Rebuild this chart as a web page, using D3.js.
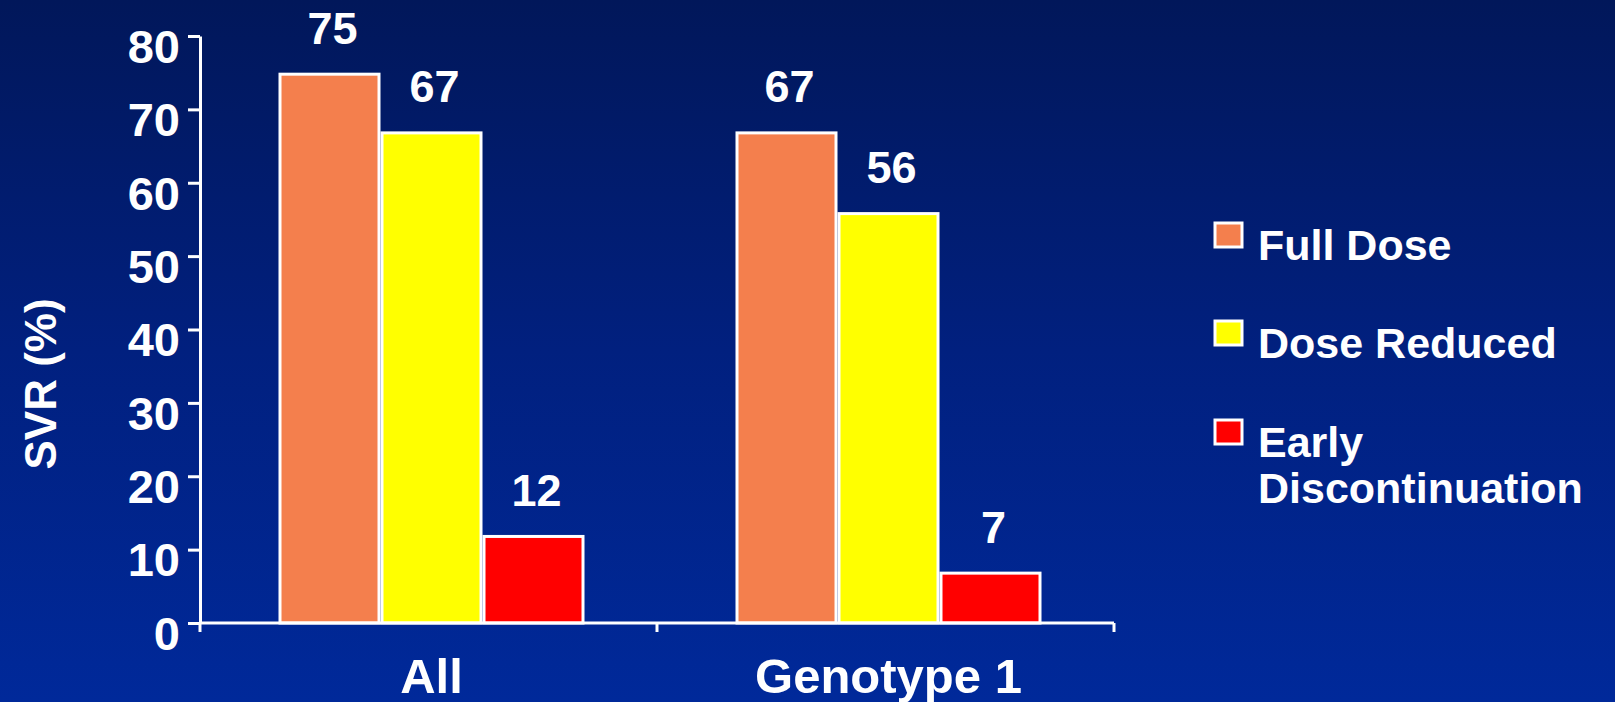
<!DOCTYPE html>
<html>
<head>
<meta charset="utf-8">
<script src="https://cdn.jsdelivr.net/npm/d3@7"></script>
<style>
  html, body { margin: 0; padding: 0; overflow: hidden; background: #001a6a; }
  svg { display: block; }
  text { font-family: "Liberation Sans", Arial, Helvetica, sans-serif; font-weight: bold; fill: #ffffff; }
</style>
</head>
<body>
<svg id="chart" width="1615" height="702"></svg>
<script>
// ---- data ----
const categories = ["All", "Genotype 1"];
const seriesNames = ["Full Dose", "Dose Reduced", "Early Discontinuation"];
const fullDose = [75, 67];
const doseReduced = [67, 56];
const earlyDiscontinuation = [12, 7];
const yTicks = [0, 10, 20, 30, 40, 50, 60, 70, 80];
const yLabel = "SVR (%)";

// ---- layout ----
const W = 1615, H = 702;
const plot = { left: 200, right: 1114, top: 36, bottom: 623 };
const colors = ["#f47f4d", "#ffff00", "#ff0000"];
const seriesValues = [fullDose, doseReduced, earlyDiscontinuation];

const svg = d3.select("#chart");

// background gradient
const defs = svg.append("defs");
const grad = defs.append("linearGradient").attr("id", "bg").attr("x1", 0).attr("y1", 0).attr("x2", 0).attr("y2", 1);
grad.append("stop").attr("offset", "0%").attr("stop-color", "#01175a");
grad.append("stop").attr("offset", "50%").attr("stop-color", "#01207f");
grad.append("stop").attr("offset", "100%").attr("stop-color", "#00299a");
svg.append("rect").attr("width", W).attr("height", H).attr("fill", "url(#bg)");

// scales
const y = d3.scaleLinear().domain([0, 80]).range([plot.bottom, plot.top]);
const x0 = d3.scaleBand().domain(categories).range([plot.left, plot.right]).paddingInner(0).paddingOuter(0);
const groupW = 306;
const x1 = d3.scaleBand().domain(seriesNames).range([0, groupW]).padding(0);

// data rows
const rows = [];
categories.forEach((c, ci) => {
  seriesNames.forEach((s, si) => {
    rows.push({ cat: c, series: s, si: si, value: seriesValues[si][ci] });
  });
});

const gx = c => x0(c) + (x0.bandwidth() - groupW) / 2 + 3;
const sw = 3;

// bars (stroke drawn inside the bar area)
svg.append("g").selectAll("rect").data(rows).join("rect")
  .attr("x", d => gx(d.cat) + x1(d.series) + sw / 2)
  .attr("y", d => y(d.value) + sw / 2)
  .attr("width", x1.bandwidth() - sw)
  .attr("height", d => y(0) - y(d.value) - sw / 2)
  .attr("fill", d => colors[d.si])
  .attr("stroke", "#ffffff")
  .attr("stroke-width", sw);

// value labels
svg.append("g").selectAll("text").data(rows).join("text")
  .attr("x", d => gx(d.cat) + x1(d.series) + x1.bandwidth() / 2 + 3)
  .attr("y", d => y(d.value) - 29)
  .attr("text-anchor", "middle")
  .attr("font-size", 45)
  .text(d => d.value);

// y axis
const yAxis = d3.axisLeft(y).tickValues(yTicks).tickSize(12).tickSizeOuter(0).tickPadding(8);
const gy = svg.append("g").attr("transform", `translate(${plot.left},0)`).call(yAxis);
gy.selectAll("path, line").attr("stroke", "#ffffff").attr("stroke-width", 3);
gy.selectAll("text")
  .attr("font-size", 47)
  .attr("font-family", "'Liberation Sans', Arial, sans-serif")
  .attr("font-weight", "bold")
  .attr("fill", "#ffffff")
  .attr("dy", "0.56em");

// x axis line
svg.append("line")
  .attr("x1", plot.left).attr("x2", plot.right)
  .attr("y1", y(0)).attr("y2", y(0))
  .attr("stroke", "#ffffff").attr("stroke-width", 3);
// category boundary ticks
const bounds = d3.range(categories.length + 1).map(i => plot.left + i * x0.step());
svg.append("g").selectAll("line").data(bounds).join("line")
  .attr("x1", d => d).attr("x2", d => d)
  .attr("y1", y(0)).attr("y2", y(0) + 9)
  .attr("stroke", "#ffffff").attr("stroke-width", 3);
// category labels
svg.append("g").selectAll("text").data(categories).join("text")
  .attr("x", d => x0(d) + x0.bandwidth() / 2 + 3)
  .attr("y", y(0) + 70)
  .attr("text-anchor", "middle")
  .attr("font-size", 49)
  .text(d => d);

// y label
svg.append("text")
  .attr("transform", `translate(56,384) rotate(-90)`)
  .attr("text-anchor", "middle")
  .attr("font-size", 44)
  .text(yLabel);

// legend
const legendItems = [
  { name: "Full Dose", lines: ["Full Dose"], color: colors[0] },
  { name: "Dose Reduced", lines: ["Dose Reduced"], color: colors[1] },
  { name: "Early Discontinuation", lines: ["Early", "Discontinuation"], color: colors[2] }
];
const legendBaselines = [260, 358, 457];
const lg = svg.append("g");
legendItems.forEach((it, i) => {
  const b = legendBaselines[i];
  lg.append("rect")
    .attr("x", 1215).attr("y", b - 37)
    .attr("width", 27).attr("height", 24)
    .attr("fill", it.color)
    .attr("stroke", "#ffffff").attr("stroke-width", 3);
  it.lines.forEach((ln, k) => {
    lg.append("text")
      .attr("x", 1258)
      .attr("y", b + k * 46)
      .attr("font-size", 43)
      .text(ln);
  });
});
</script>
</body>
</html>
